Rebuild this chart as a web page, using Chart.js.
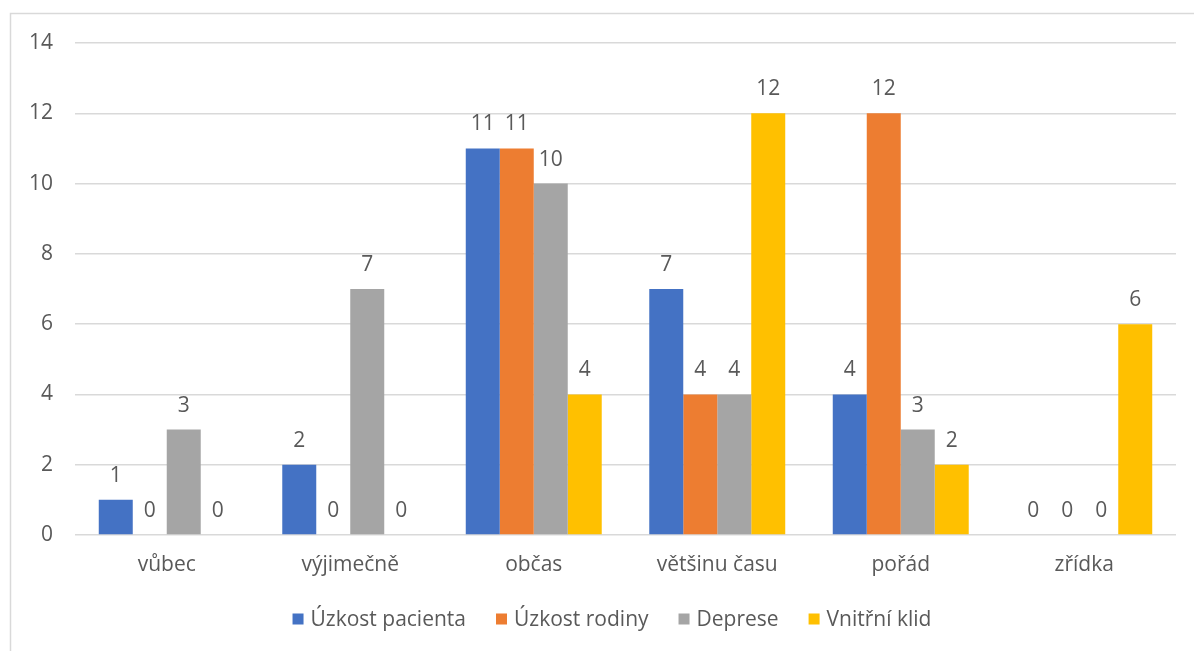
<!DOCTYPE html>
<html>
<head>
<meta charset="utf-8">
<script src="https://cdn.jsdelivr.net/npm/chart.js@4.4.1/dist/chart.umd.min.js"></script>
<style>
  html, body { margin: 0; padding: 0; background: #ffffff; }
  #wrap { width: 1194px; height: 651px; position: relative; }
</style>
</head>
<body>
<div id="wrap"><canvas id="c" width="1194" height="651"></canvas></div>
<script>
// Answer categories
const categories = ['vůbec', 'výjimečně', 'občas', 'většinu času', 'pořád', 'zřídka'];

// Series values per category
const uzkostPacienta = [1, 2, 11, 7, 4, 0];
const uzkostRodiny   = [0, 0, 11, 4, 12, 0];
const deprese        = [3, 7, 10, 4, 3, 0];
const vnitrniKlid    = [0, 0, 4, 12, 2, 6];

const seriesNames = ['Úzkost pacienta', 'Úzkost rodiny', 'Deprese', 'Vnitřní klid'];
const seriesColors = ['#4472C4', '#ED7D31', '#A5A5A5', '#FFC000'];

const yTicks = { min: 0, max: 14, step: 2 };

const FONT = '"Open Sans", "Noto Sans", sans-serif';
const TEXT = '#595959';
const GRID = '#D9D9D9';

// White page with a light frame around the chart object
const framePlugin = {
  id: 'frame',
  beforeDraw(chart) {
    const ctx = chart.ctx;
    ctx.save();
    ctx.fillStyle = '#ffffff';
    ctx.fillRect(0, 0, chart.width, chart.height);
    ctx.strokeStyle = GRID;
    ctx.lineWidth = 1.5;
    ctx.strokeRect(10.5, 13.5, chart.width + 20, chart.height + 20);
    ctx.restore();
  }
};

// Value labels above each bar
const valueLabels = {
  id: 'valueLabels',
  afterDatasetsDraw(chart) {
    const ctx = chart.ctx;
    ctx.save();
    ctx.font = '21px ' + FONT;
    ctx.fillStyle = TEXT;
    ctx.textAlign = 'center';
    ctx.textBaseline = 'alphabetic';
    chart.data.datasets.forEach((ds, i) => {
      const meta = chart.getDatasetMeta(i);
      meta.data.forEach((el, j) => {
        ctx.fillText(String(ds.data[j]), el.x, el.y - 18);
      });
    });
    ctx.restore();
  }
};

// Legend row under the category labels
const bottomLegend = {
  id: 'bottomLegend',
  afterDraw(chart) {
    const ctx = chart.ctx;
    ctx.save();
    ctx.font = '21px ' + FONT;
    ctx.textBaseline = 'middle';
    ctx.textAlign = 'left';
    const box = 11, gapBox = 7, gapItem = 30;
    const items = chart.data.datasets.map(ds => ({
      label: ds.label, color: ds.backgroundColor,
      w: box + gapBox + ctx.measureText(ds.label).width
    }));
    const total = items.reduce((s, it) => s + it.w, 0) + gapItem * (items.length - 1);
    let x = 612 - total / 2;
    const y = 619;
    items.forEach(it => {
      ctx.fillStyle = it.color;
      ctx.fillRect(x, y - box / 2, box, box);
      ctx.fillStyle = TEXT;
      ctx.fillText(it.label, x + box + gapBox, y + 1);
      x += it.w + gapItem;
    });
    ctx.restore();
  }
};

const seriesData = [uzkostPacienta, uzkostRodiny, deprese, vnitrniKlid];

new Chart(document.getElementById('c'), {
  type: 'bar',
  data: {
    labels: categories,
    datasets: seriesData.map((d, i) => ({
      label: seriesNames[i],
      data: d,
      backgroundColor: seriesColors[i],
      borderWidth: 0,
      barPercentage: 1.0,
      categoryPercentage: 0.741
    }))
  },
  options: {
    responsive: false,
    animation: false,
    devicePixelRatio: 1,
    layout: { padding: { top: 43, right: 18, bottom: 0, left: 0 } },
    plugins: {
      legend: { display: false },
      tooltip: { enabled: false }
    },
    scales: {
      x: {
        grid: { display: false, drawTicks: false },
        border: { display: false },
        ticks: { color: TEXT, font: { family: FONT, size: 21 }, padding: 17, maxRotation: 0 },
        afterFit(s) { s.height = 116; }
      },
      y: {
        min: yTicks.min,
        max: yTicks.max,
        ticks: { stepSize: yTicks.step, color: TEXT, font: { family: FONT, size: 21 }, padding: 22 },
        grid: { color: GRID, lineWidth: 1.5, drawTicks: false },
        border: { display: false },
        afterFit(s) { s.width = 75; }
      }
    }
  },
  plugins: [framePlugin, valueLabels, bottomLegend]
});
</script>
</body>
</html>
